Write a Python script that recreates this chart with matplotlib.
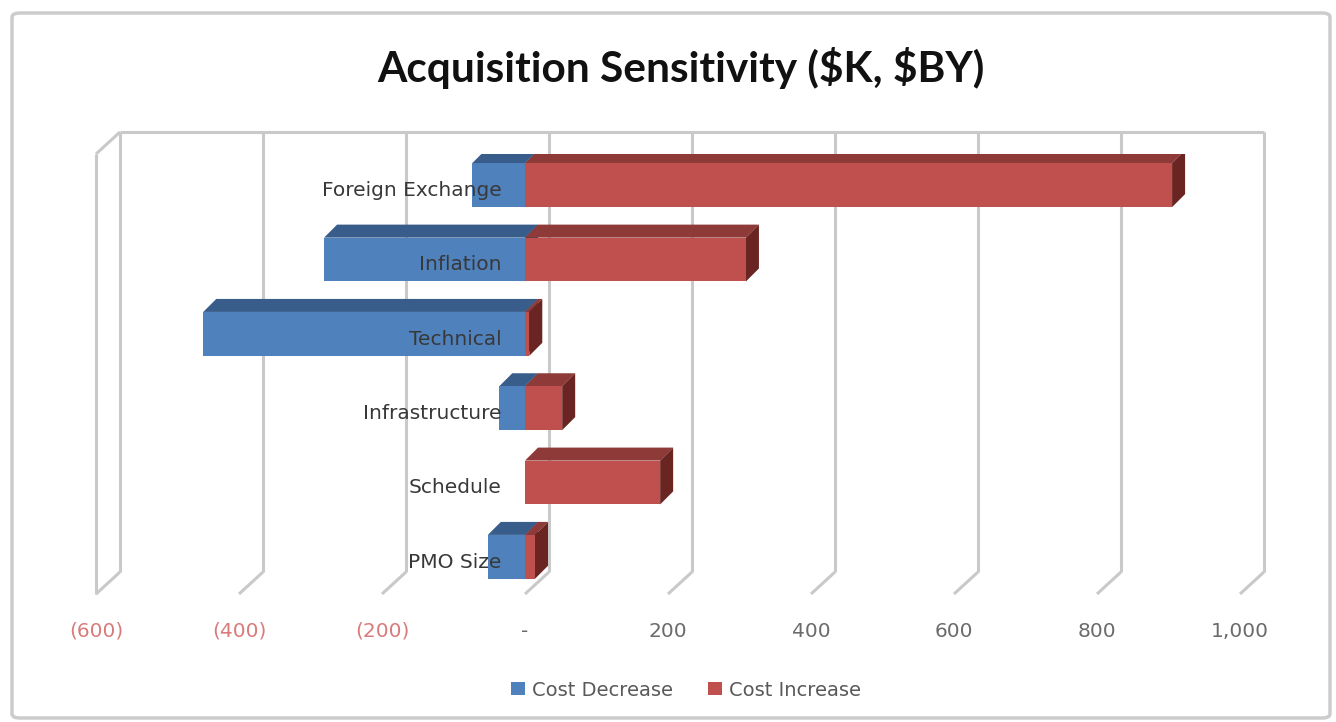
import matplotlib.pyplot as plt
from matplotlib.patches import Polygon, Rectangle, FancyBboxPatch

plt.rcParams['font.family'] = ['DejaVu Sans']

# data ($K)
categories = ["Foreign Exchange", "Inflation", "Technical", "Infrastructure", "Schedule", "PMO Size"]
cost_decrease = [-74, -281, -450, -36, 0, -52]
cost_increase = [905, 309, 6, 52, 189, 14]
xticks = [-600, -400, -200, 0, 200, 400, 600, 800, 1000]
xtick_labels = ["(600)", "(400)", "(200)", "-", "200", "400", "600", "800", "1,000"]

BLUE, BLUE_TOP, BLUE_SIDE = "#4f81bd", "#385d8a", "#2c4a70"
RED, RED_TOP, RED_SIDE = "#c0504d", "#8e3a38", "#6a2523"
GRID = "#c9c9c9"

W, H = 1336, 722
fig = plt.figure(figsize=(W / 100, H / 100), dpi=100)
ax = fig.add_axes([96 / W, 128 / H, 1144 / W, 440 / H])
floor, top = 5.5, -0.42
ax.set_xlim(-600, 1000)
ax.set_ylim(floor, top)
ax.axis("off")


def px_to_data(dx, dy):
    inv = ax.transData.inverted()
    x0, y0 = inv.transform((0, 0))
    x1, y1 = inv.transform((dx, dy))
    return x1 - x0, y1 - y0


wx, wy = px_to_data(24, 22)   # depth of the walls
bx, by = px_to_data(13, 13)   # depth of the bars

# back wall grid, floor diagonals and left wall
gkw = dict(color=GRID, lw=2.2, solid_capstyle="butt", clip_on=False, zorder=1)
for v in xticks:
    ax.plot([v + wx, v + wx], [floor + wy, top + wy], **gkw)
    ax.plot([v, v + wx], [floor, floor + wy], **gkw)
ax.plot([xticks[0] + wx, xticks[-1] + wx], [top + wy, top + wy], **gkw)
ax.plot([xticks[0], xticks[0]], [floor, top], **gkw)
ax.plot([xticks[0], xticks[0] + wx], [top, top + wy], **gkw)

# bars: front faces via barh, top / side faces as extrusions
h = 0.59
ypos = list(range(len(categories)))
ax.barh(ypos, cost_decrease, height=h, color=BLUE, zorder=4)
ax.barh(ypos, cost_increase, height=h, color=RED, zorder=4)


def extrude(a, b, y, ctop, cside):
    yt, yb = y - h / 2, y + h / 2
    ax.add_patch(Polygon([(a, yt), (b, yt), (b + bx, yt + by), (a + bx, yt + by)],
                         closed=True, fc=ctop, ec="none", zorder=3))
    ax.add_patch(Polygon([(b, yt), (b + bx, yt + by), (b + bx, yb + by), (b, yb)],
                         closed=True, fc=cside, ec="none", zorder=3))


for y, dec, inc in zip(ypos, cost_decrease, cost_increase):
    if dec < 0:
        extrude(dec, 0, y, BLUE_TOP, BLUE_SIDE)
    if inc > 0:
        extrude(0, inc, y, RED_TOP, RED_SIDE)

for y, cat in zip(ypos, categories):
    ax.text(-33, y + 0.07, cat, ha="right", va="center", fontsize=14.5,
            color="#383838", zorder=5)

for v, lab in zip(xticks, xtick_labels):
    ax.text(v, floor + 0.5, lab, ha="center", va="center", fontsize=14.5,
            color="#d97b7b" if v < 0 else "#6b6b6b", clip_on=False)

fig.text(0.51, 1 - 68 / H, r"Acquisition Sensitivity (\$K, \$BY)", ha="center",
         va="center", fontsize=30.5, fontweight="bold", color="#111111",
         family=["Lato", "DejaVu Sans"])

handles = [Rectangle((0, 0), 1, 1, fc=BLUE), Rectangle((0, 0), 1, 1, fc=RED)]
fig.legend(handles, ["Cost Decrease", "Cost Increase"], loc="center",
           bbox_to_anchor=(686 / W, 1 - 690 / H), ncol=2, frameon=False, fontsize=14,
           handlelength=0.67, handleheight=0.67, handletextpad=0.36,
           columnspacing=1.85, labelcolor="#595959")

fig.patches.append(FancyBboxPatch((12 / W, 4 / H), 1318 / W, 705 / H,
                                  boxstyle="round,pad=0,rounding_size=0.006",
                                  transform=fig.transFigure, fc="none",
                                  ec="#cccccc", lw=2.5))

fig.savefig("out.png", dpi=100)
